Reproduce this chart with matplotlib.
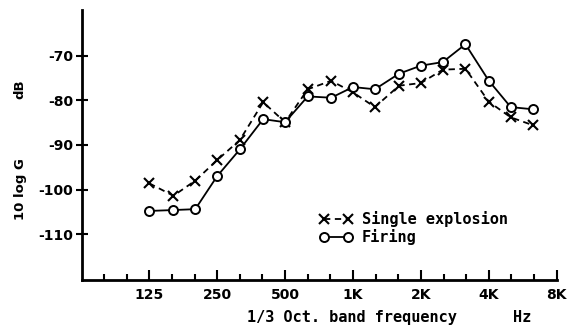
import numpy as np
import matplotlib
matplotlib.use("Agg")
import matplotlib.pyplot as plt
from matplotlib.ticker import FixedLocator, NullFormatter

# 1/3 octave band centres (Hz)
freqs = [125, 160, 200, 250, 315, 400, 500, 630, 800, 1000,
         1250, 1600, 2000, 2500, 3150, 4000, 5000, 6300]

# 10 log G (dB)
single_explosion = [-98.6, -101.4, -98.0, -93.4, -88.9, -80.4, -84.9, -77.5, -75.6, -78.2,
                    -81.5, -76.7, -76.1, -73.1, -72.9, -80.3, -83.8, -85.6]
firing = [-104.8, -104.6, -104.4, -97.0, -91.0, -84.2, -84.9, -79.1, -79.4, -77.0,
          -77.5, -74.0, -72.2, -71.4, -67.4, -75.6, -81.5, -82.0]

major_ticks = [125, 250, 500, 1000, 2000, 4000, 8000]
major_labels = ["125", "250", "500", "1K", "2K", "4K", "8K"]
y_ticks = [-70, -80, -90, -100, -110]

mono = "DejaVu Sans Mono"

fig = plt.figure(figsize=(5.74, 3.31), dpi=100)
ax = fig.add_axes([0.143, 0.154, 0.827, 0.816])

ax.plot(freqs, single_explosion, color="black", lw=1.3, ls=(0, (3.5, 2.5)),
        marker="x", ms=6.5, mew=1.5, label="Single explosion")
ax.plot(freqs, firing, color="black", lw=1.3, ls="-",
        marker="o", ms=6.5, mew=1.4, mfc="white", label="Firing")

ax.set_xscale("log")
ax.set_xlim(63, 8000)
ax.set_ylim(-120.3, -59.7)

ax.xaxis.set_major_locator(FixedLocator(major_ticks))
ax.set_xticklabels(major_labels)
minor = [125 * 2 ** (k / 3) for k in range(-2, 19) if k % 3 != 0]
ax.xaxis.set_minor_locator(FixedLocator(minor))
ax.xaxis.set_minor_formatter(NullFormatter())
ax.set_yticks(y_ticks)
ax.set_yticklabels([str(v) for v in y_ticks])

for s in ["top", "right"]:
    ax.spines[s].set_visible(False)
for s in ["left", "bottom"]:
    ax.spines[s].set_linewidth(2)

ax.tick_params(axis="x", which="major", direction="in", length=7, width=1.5,
               labelsize=10, pad=6)
ax.tick_params(axis="x", which="minor", direction="in", length=4, width=1.5)
ax.tick_params(axis="y", which="major", direction="inout", length=9, width=1.5,
               labelsize=10, pad=2)
for lab in ax.get_xticklabels() + ax.get_yticklabels():
    lab.set_fontweight("bold")

fig.text(0.613, 0.04, "1/3 Oct. band frequency", family=mono, weight="bold",
         fontsize=11, ha="center", va="center")
fig.text(0.91, 0.04, "Hz", family=mono, weight="bold",
         fontsize=11, ha="center", va="center")
fig.text(0.035, 0.73, "dB", rotation=90, weight="bold",
         fontsize=9.5, ha="center", va="center")
fig.text(0.035, 0.43, "10 log G", rotation=90, weight="bold",
         fontsize=9.5, ha="center", va="center")

leg = ax.legend(loc="upper left", bbox_to_anchor=(0.545, 0.38),
                bbox_transform=fig.transFigure, frameon=False, numpoints=2,
                handlelength=2.2, handletextpad=0.6, labelspacing=0.1,
                borderaxespad=0, prop={"family": mono, "weight": "bold", "size": 11})

fig.savefig("out.png", dpi=100)
